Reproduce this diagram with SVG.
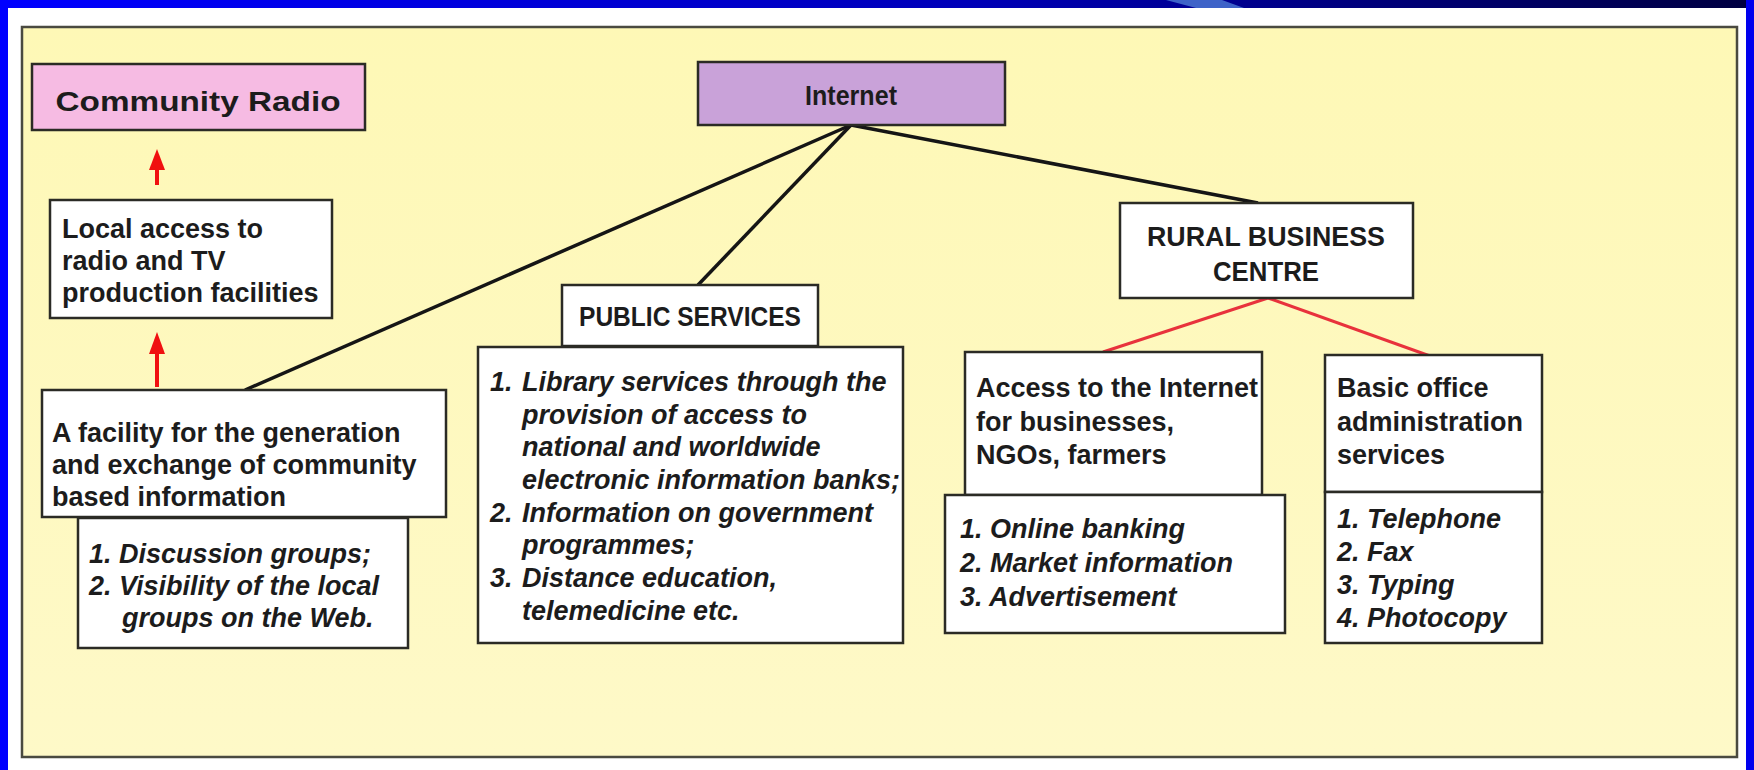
<svg xmlns="http://www.w3.org/2000/svg" width="1754" height="770" viewBox="0 0 1754 770">
<defs>
<linearGradient id="band" x1="0" y1="0" x2="1" y2="0">
<stop offset="0" stop-color="#0000FF"/>
<stop offset="0.55" stop-color="#0000B8"/>
<stop offset="1" stop-color="#000040"/>
</linearGradient>
<linearGradient id="panel" x1="0" y1="0" x2="0" y2="1">
<stop offset="0" stop-color="#FEF8B6"/>
<stop offset="1" stop-color="#FEF9C8"/>
</linearGradient>
</defs>
<style>
.box{fill:#FFFFFF;stroke:#2B2B25;stroke-width:2.5}
.t{font-family:"Liberation Sans",Arial,sans-serif;font-weight:bold;font-size:27px;fill:#1C1C1C}
.i{font-style:italic}
.c{text-anchor:middle}
.blk{stroke:#151515;stroke-width:3.5;fill:none}
.red{stroke:#E8323C;stroke-width:3;fill:none}
.arr{stroke:#F01010;stroke-width:4;fill:none}
.head{fill:#F01010}
</style>
<rect x="0" y="0" width="1754" height="770" fill="#FFFFFF"/>
<rect x="0" y="0" width="1754" height="8" fill="url(#band)"/>
<polygon points="1166,0 1222,0 1244,8 1196,8" fill="#3E63C8"/>
<rect x="0" y="0" width="8" height="770" fill="#0000FF"/>
<rect x="1746" y="0" width="8" height="770" fill="#0000EE"/>
<rect x="22" y="27" width="1715" height="730" fill="url(#panel)" stroke="#4A4A40" stroke-width="2.5"/>

<g id="connectors">
<line class="blk" x1="851" y1="125" x2="245" y2="390"/>
<line class="blk" x1="851" y1="125" x2="698" y2="285"/>
<line class="blk" x1="851" y1="125" x2="1258" y2="203"/>
<line class="red" x1="1268" y1="298" x2="1103" y2="352"/>
<line class="red" x1="1268" y1="298" x2="1430" y2="356"/>
<line class="arr" x1="157" y1="185" x2="157" y2="165"/>
<polygon class="head" points="157,149 165,170 149,170"/>
<line class="arr" x1="157" y1="387" x2="157" y2="350"/>
<polygon class="head" points="157,332 165,354 149,354"/>
</g>

<g id="community-radio">
<rect x="32" y="64" width="333" height="66" fill="#F6BBE3" stroke="#2B2B25" stroke-width="2.5"/>
<text class="t c" x="198" y="111" font-size="37" textLength="285" lengthAdjust="spacingAndGlyphs">Community Radio</text>
</g>

<g id="internet">
<rect x="698" y="62" width="307" height="63" fill="#C9A2D9" stroke="#2B2B25" stroke-width="2.5"/>
<text class="t c" x="851" y="105" font-size="34" textLength="92" lengthAdjust="spacingAndGlyphs">Internet</text>
</g>

<g id="local-access">
<rect class="box" x="50" y="200" width="282" height="118"/>
<text class="t" x="62" y="238">Local access to</text>
<text class="t" x="62" y="270">radio and TV</text>
<text class="t" x="62" y="302">production facilities</text>
</g>

<g id="facility-list">
<rect class="box" x="78" y="518" width="330" height="130"/>
<text class="t i" x="89" y="563">1. Discussion groups;</text>
<text class="t i" x="89" y="595">2. Visibility of the local</text>
<text class="t i" x="122" y="627">groups on the Web.</text>
</g>

<g id="facility">
<rect class="box" x="42" y="390" width="404" height="127"/>
<text class="t" x="52" y="442" font-size="28.5">A facility for the generation</text>
<text class="t" x="52" y="474" font-size="28.5">and exchange of community</text>
<text class="t" x="52" y="506" font-size="28.5">based information</text>
</g>

<g id="public-services">
<rect class="box" x="562" y="285" width="256" height="61"/>
<text class="t c" x="690" y="326" textLength="222" lengthAdjust="spacingAndGlyphs">PUBLIC SERVICES</text>
</g>

<g id="public-list">
<rect class="box" x="478" y="347" width="425" height="296"/>
<text class="t i" x="490" y="391">1.</text><text class="t i" x="522" y="391">Library services through the</text>
<text class="t i" x="522" y="424">provision of access to</text>
<text class="t i" x="522" y="456">national and worldwide</text>
<text class="t i" x="522" y="489">electronic information banks;</text>
<text class="t i" x="490" y="522">2.</text><text class="t i" x="522" y="522">Information on government</text>
<text class="t i" x="522" y="554">programmes;</text>
<text class="t i" x="490" y="587">3.</text><text class="t i" x="522" y="587">Distance education,</text>
<text class="t i" x="522" y="620">telemedicine etc.</text>
</g>

<g id="rural-business-centre">
<rect class="box" x="1120" y="203" width="293" height="95"/>
<text class="t c" x="1266" y="246" textLength="238" lengthAdjust="spacingAndGlyphs">RURAL BUSINESS</text>
<text class="t c" x="1266" y="281" textLength="106" lengthAdjust="spacingAndGlyphs">CENTRE</text>
</g>

<g id="internet-access">
<rect class="box" x="965" y="352" width="297" height="143"/>
<text class="t" x="976" y="397">Access to the Internet</text>
<text class="t" x="976" y="431">for businesses,</text>
<text class="t" x="976" y="464">NGOs, farmers</text>
</g>

<g id="internet-access-list">
<rect class="box" x="945" y="495" width="340" height="138"/>
<text class="t i" x="960" y="538">1. Online banking</text>
<text class="t i" x="960" y="572">2. Market information</text>
<text class="t i" x="960" y="606">3. Advertisement</text>
</g>

<g id="office-services">
<rect class="box" x="1325" y="355" width="217" height="137"/>
<text class="t" x="1337" y="397">Basic office</text>
<text class="t" x="1337" y="431">administration</text>
<text class="t" x="1337" y="464">services</text>
</g>

<g id="office-services-list">
<rect class="box" x="1325" y="492" width="217" height="151"/>
<text class="t i" x="1337" y="528">1. Telephone</text>
<text class="t i" x="1337" y="561">2. Fax</text>
<text class="t i" x="1337" y="594">3. Typing</text>
<text class="t i" x="1337" y="627">4. Photocopy</text>
</g>
</svg>
